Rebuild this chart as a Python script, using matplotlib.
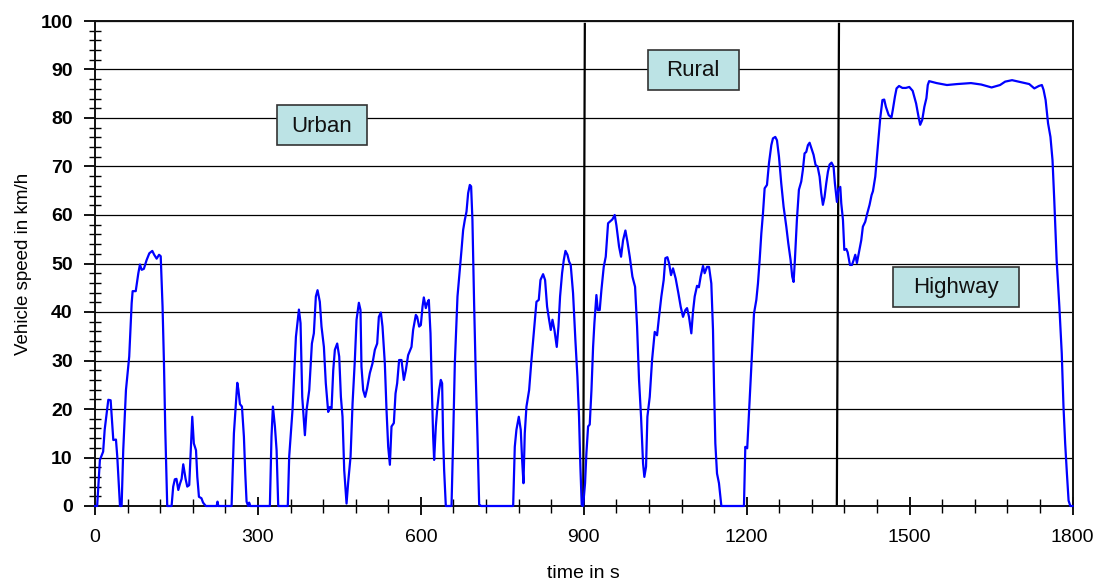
import matplotlib
matplotlib.use("Agg")
import matplotlib.pyplot as plt
from matplotlib.patches import Rectangle
from matplotlib.ticker import MultipleLocator

plt.rcParams['font.family'] = ['Liberation Sans', 'DejaVu Sans']

# ---- data ----
time_s = [
    0, 4, 9, 15, 17.8, 24.5, 28.8, 33.7, 38.6, 41, 46, 49, 52, 57, 63, 67.5, 69.3, 75, 79.8, 82.8,
    85.9, 90, 95, 100, 105.5, 109, 113.5, 118, 121, 124.4, 127, 129.4, 133, 141, 144, 147, 150,
    153.4, 156.5, 159.5, 162.5, 166.8, 169.9, 173.5, 176.7, 179.1, 182, 186, 188.4, 191.4, 196,
    199, 204, 224, 225.6, 227, 251.5, 255.8, 259, 262, 264, 266.9, 270.6, 274.2, 276.7, 279.1,
    282, 283.9, 286, 322, 325, 327.6, 331.3, 334.4, 337.4, 355,
    357.6, 363.7, 370, 375.5, 378.5, 381.6, 386.5, 389.6, 394.5, 399.4, 403, 406.7, 409.8, 414,
    417.1, 421.5, 425, 429.4, 432.5, 435.6, 438.7, 441.7, 446, 449.7, 452.8, 455.8, 458.9, 463.2,
    466.3, 470.6, 474.3, 478.5, 481.6, 485.9, 488.9, 490.7, 493.8, 497.4, 501, 506.1, 511, 515.3,
    519.6, 522.7, 526.4, 529.4, 533.7, 536.8, 539.9, 543, 546, 550.3, 553.4, 556.4, 560, 564.4,
    568.7, 572.4, 576.6, 582.8, 585.8, 590.8, 593.2, 596.9, 600, 603.1, 605.5, 609.2, 611.6,
    614.7, 617.8, 620.2, 622.7, 624.5, 627.6, 630, 633.7, 636.8, 639.2, 641, 642.9, 646, 656.5,
    659.6, 662.6, 667.5, 671.8, 674.9, 677.9, 681, 684.1, 687.1, 690.2, 692.6, 695, 698.1, 701.2,
    704.3, 707.4, 711,
    770, 773, 776, 780.4, 784, 786.5, 789, 791.4, 794.5, 799.4, 803.7, 808, 812.9, 817.2, 820.3,
    825.1, 828.8, 832.5, 836.2, 839.3, 842.4, 846, 850.3, 853.4, 856.4, 860.1, 863.2, 866.3, 870,
    873, 876, 880.3, 884.6, 888.3, 891.3, 893.8, 896.3, 898.8,
    902.4, 904.9, 908, 911, 914.2, 917.2, 919.6, 923.3, 925.8, 929.4, 932.5, 936.8, 940.5, 944.8,
    947.9, 952.8, 957, 960.1, 965, 968.7, 972.4, 976.7, 980.4, 984.7, 989.6, 994.5, 998.2,
    1001.8, 1005.5, 1009.2, 1011.6, 1014.7, 1017.2, 1021.5, 1025.8, 1030.7, 1035, 1038.6,
    1042.9, 1047.2, 1050.3, 1054, 1057, 1060.7, 1064.4, 1069.3, 1074.2, 1078.5, 1082.8, 1087.1,
    1090.2, 1093.8, 1098.1, 1101.2, 1104.3, 1108.6, 1112, 1115.3, 1119.6, 1122.6, 1127, 1130.7,
    1134.9, 1138, 1139.9, 1142.3, 1145.4, 1149, 1153.4, 1195, 1197.5, 1201, 1204.3, 1207.4,
    1210.4, 1213.5, 1217.8, 1220.8, 1223.9, 1227, 1230, 1233.1, 1237.4, 1241.1, 1245.4, 1248.4,
    1252.7, 1255.8, 1259.5, 1263.7, 1268, 1273, 1276.6, 1280.9, 1283.9, 1286.4, 1288.8, 1292.5,
    1296.2, 1300.5, 1303.5, 1306.6, 1309.7, 1312.8, 1315.9, 1319.5, 1323.2, 1326.9, 1330.6,
    1334.3, 1337.3, 1340.4, 1343.4, 1346.5, 1349.6, 1352.7, 1356.3, 1360, 1362.5, 1366.2,
    1368.7, 1372.4,
    1374.2, 1377.3, 1379.8, 1383.4, 1386, 1390.2, 1393.9, 1397, 1400, 1403, 1406.7, 1411, 1414,
    1418.3, 1422, 1426.3, 1430, 1432.5, 1436.8, 1439.8, 1443, 1446, 1450, 1453.3, 1456.4,
    1461.5, 1466.6, 1469, 1473, 1476, 1480.6, 1486.8, 1493, 1499.5, 1505.7, 1512, 1516.4,
    1519.5, 1523.3, 1527.2, 1531, 1533.5, 1536, 1549.8, 1568.8, 1587.8, 1613, 1632, 1651,
    1666.6, 1676, 1688.7, 1704.4, 1720.3, 1729.7, 1738, 1743.6, 1746.7, 1750.5, 1755, 1759.4,
    1763.2, 1766.4, 1770.8, 1775.8, 1780.2, 1783.4, 1786.5, 1789.7, 1792.8, 1796, 1800,
]

speed_kmh = [
    0, 0, 9.5, 11.2, 15.7, 21.9, 21.8, 13.6, 13.7, 10.2, 0, 0, 11.5, 23.9, 30.8, 41.8, 44.3, 44.3, 48, 49.8,
    48.7, 48.9, 50.7, 52.1, 52.6, 51.8, 51.0, 51.8, 51.5, 41.1, 29.4, 15.7, 0, 0, 4, 5.5, 5.6,
    3.3, 4.6, 5.6, 8.6, 5.6, 4.0, 4.3, 12.2, 18.4, 12.9, 11.5, 6, 1.9, 1.6,
    0.7, 0, 0, 0.9, 0, 0, 15, 20.5, 25.4, 24, 21, 20.5, 14.3, 6.7, 0.9,
    0, 0.7, 0, 0, 14.3, 20.5, 16.4, 11.5, 0, 0,
    10.2, 19.8, 34.9, 40.5, 37.7, 22.5, 14.6, 19.8, 23.9, 33.5, 35.6, 43.2, 44.5, 42.1,
    37, 32.8, 25.3, 19.4, 20.4, 20.1, 28, 32.2, 33.5, 30.8, 22.5, 18.4, 7.4, 0.5,
    5, 10.2, 21.2, 30.1, 38.4, 41.9, 40.4, 28.7, 23.9, 22.5, 24.2, 27.4, 29.4, 32.2,
    33.5, 39, 39.9, 37, 29.4, 19.8, 12.2, 8.5, 16.4, 17.1, 23.2, 25.3, 30.1, 30.1,
    26, 28, 31.1, 32.8, 36.3, 39.4, 39.0, 37, 37.3, 41.1, 43, 40.8, 41.8,
    42.5, 35.6, 24.6, 14.3, 9.5, 16.4, 19.8, 23.9, 26, 25.3, 14.3, 7.4, 0, 0,
    14.3, 29.4, 43.2, 48.7, 52.8, 56.9, 59, 60.7, 64.5, 66.2, 65.9, 59, 41.8, 26.7,
    14.3, 0.3, 0,
    0, 12.2, 15.7, 18.4, 15.7, 9.5, 4.7, 15, 20.5, 23.9, 30.1, 35.6, 42.1, 42.5, 46.6,
    47.8, 46.6, 41.1, 38.4, 36.3, 38.4, 36.3, 32.8, 37, 43.2, 48, 50.7, 52.6, 51.8,
    50.4, 49.7, 43.9, 34.2, 26.7, 18.4, 8.1, 0.2, 0,
    4.7, 10.9, 16.4, 16.8, 23.9, 32.8, 37.7, 43.5, 40.4, 40.4, 44.5, 49.3, 51.4, 58.3,
    58.6, 59.1, 60, 57.9, 53.5, 51.4, 54.8, 56.8, 54.5, 51.4, 47.3, 45.2, 37,
    26, 18.4, 8.8, 6, 8.1, 18.4, 22.5, 30.1, 35.9, 35.2, 39,
    43.2, 46.6, 51.1, 51.3, 50.1, 47.6, 49, 46.9, 43.9, 41.1, 39, 40.4,
    40.8, 39, 35.6, 40.1, 43.2, 45.4, 45.1, 47.3, 49.5, 48, 49.3, 49.3,
    45.9, 36.3, 24.6, 12.9, 6.7, 4.7, 0, 0, 12.2, 11.9, 19.1, 26,
    32.8, 39.7, 42.5, 45.9, 50.7, 56.2, 60.3, 65.5, 66.2, 70.7, 74.4, 75.8,
    76.1, 75.4, 72, 66.5, 61.7, 57.6, 54.2, 50.7, 47.3, 46.2, 50.7, 59,
    65.2, 66.9, 69.3, 72.7, 73, 74.4, 74.9, 73.7, 72.4, 70.3, 70.0,
    67.9, 64.5, 62.1, 63.7, 66.5, 68.9, 70.4, 70.8, 70, 66.5, 62.7,
    65.2, 65.8,
    62.4, 59, 52.8, 53, 52.3, 49.7, 49.7, 50.7, 51.8, 50.1, 52.3, 54.8, 57.6,
    58.6, 60.3, 62.1, 64.1, 64.9, 67.9, 72, 76.1, 80, 83.7, 83.8, 82.3,
    80.6, 80.1, 81.6, 84.4, 86.1, 86.6, 86.2, 86.2, 86.4, 85.6, 83, 80.3,
    78.6, 79.6, 82.3, 84.1, 86.8, 87.6, 87.2, 86.8, 87, 87.2, 86.9, 86.3,
    86.8, 87.5, 87.8, 87.4, 87, 86.1, 86.6, 86.8, 85.8, 83.7, 78.9, 76.1,
    71.3, 63.1, 50.7, 41.1, 31.5, 20.5, 12.9, 6.7, 1.1, 0, 0,
]

phase_names = ['Urban', 'Rural', 'Highway']
phase_label_t = [418, 1101.5, 1585.5]      # label centres (s)
phase_label_v = [78.5, 89.9, 45.2]         # label centres (km/h)
phase_bounds_bottom = [899, 1366]          # phase boundary lines (s)
phase_bounds_top = [902, 1370]

x_ticks = [0, 300, 600, 900, 1200, 1500, 1800]
y_ticks = list(range(0, 101, 10))

# ---- figure ----
W, H = 1098, 584
fig = plt.figure(figsize=(W / 100, H / 100), dpi=100)
ax = fig.add_axes([95 / W, (H - 506) / H, (1072.5 - 95) / W, (506 - 21) / H])

ax.plot(time_s, speed_kmh, color='#0000FF', lw=1.6, zorder=9, clip_on=False,
        solid_joinstyle='round')

for tb, tt in zip(phase_bounds_bottom, phase_bounds_top):
    ax.plot([tb, tt], [0, 99.4], color='black', lw=1.6, zorder=5)

# text boxes (fixed size boxes, centred labels)
box_w = [167.5, 167.5, 233.5]
box_h = [8.2, 8.2, 8.2]
for name, tx, ty, bw, bh in zip(phase_names, phase_label_t, phase_label_v, box_w, box_h):
    ax.add_patch(Rectangle((tx - bw / 2, ty - bh / 2), bw, bh, facecolor='#BCE3E5',
                           edgecolor='#333333', lw=1.2, zorder=6))
    ax.text(tx, ty - 0.2, name, ha='center', va='center', fontsize=16, color='#111111', zorder=7)

ax.set_xlim(0, 1800)
ax.set_ylim(0, 100)
ax.set_xticks(x_ticks)
ax.set_yticks(y_ticks)
ax.xaxis.set_minor_locator(MultipleLocator(60))
ax.yaxis.set_minor_locator(MultipleLocator(2))

ax.grid(axis='y', which='major', color='black', lw=0.9, zorder=1)
ax.set_axisbelow(True)

for sp in ax.spines.values():
    sp.set_color('#111111')
    sp.set_linewidth(1.4)
    sp.set_zorder(8)

ax.tick_params(axis='x', which='major', direction='inout', length=13, width=1.3, labelsize=14, pad=10)
ax.tick_params(axis='x', which='minor', direction='inout', length=10, width=1.0)
ax.tick_params(axis='y', which='major', direction='out', length=8, width=1.3, labelsize=14, pad=8)
ax.tick_params(axis='y', which='minor', direction='inout', length=9, width=1.0)
ax.tick_params(top=False, right=False)
for lab in ax.get_yticklabels():
    lab.set_fontweight('bold')

ax.set_ylabel('Vehicle speed in km/h', fontsize=13.5, labelpad=6)
ax.set_xlabel('time in s', fontsize=14, labelpad=14)

fig.savefig('out.png', dpi=100)
